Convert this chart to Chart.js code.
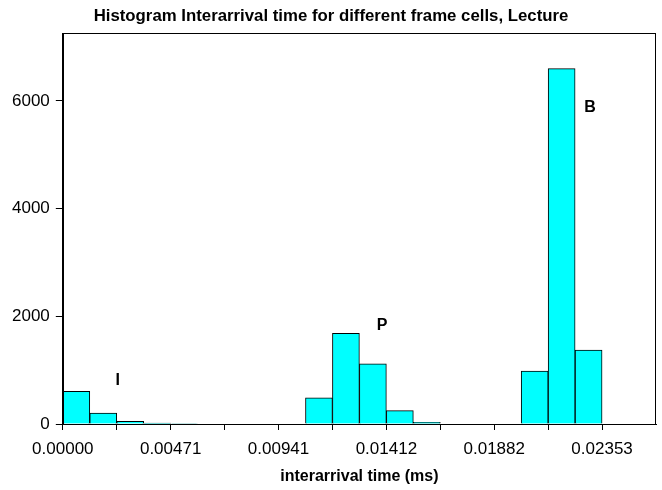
<!DOCTYPE html>
<html>
<head>
<meta charset="utf-8">
<script src="https://cdn.jsdelivr.net/npm/chart.js@4"></script>
<style>
  html, body { margin: 0; padding: 0; background: #fff; }
  #wrap { width: 662px; height: 490px; }
</style>
</head>
<body>
<div id="wrap"><canvas id="myChart" width="662" height="490"></canvas></div>
<script>
// histogram bins (width in ms), counts
let binWidth = 0.0011765;
let counts = [606, 204, 50, 17, 10, 0, 0, 0, 0, 485, 1685, 1120, 247, 30, 0, 0, 0, 985, 6600, 1375, 0, 0];

// x axis ticks: a mark every 2 bins, a label every 4
let xTickLabels = ['0.00000', '', '0.00471', '', '0.00941', '', '0.01412', '', '0.01882', '', '0.02353'];
let yTicks = [0, 2000, 4000, 6000];

// frame type labels
let annoText = ['I', 'P', 'B'];
let annoX = [0.0024, 0.01393, 0.0230];
let annoY = [815, 1835, 5870];

let fontFamily = '"Liberation Sans", Arial, sans-serif';
Chart.defaults.color = '#000';
Chart.defaults.font.family = fontFamily;

let points = counts.map((c, i) => ({ x: i * binWidth + binWidth / 2, y: c }));

// box round the plot area + the I/P/B labels
let framePlugin = {
  id: 'frame',
  afterDraw(chart) {
    let ctx = chart.ctx;
    let a = chart.chartArea;
    ctx.save();
    ctx.strokeStyle = '#000';
    ctx.lineWidth = 1;
    ctx.strokeRect(Math.round(a.left) + 0.5, Math.round(a.top) + 0.5,
      Math.round(a.right - a.left) - 1, Math.round(a.bottom - a.top));
    ctx.fillStyle = '#000';
    ctx.font = 'bold 16px ' + fontFamily;
    ctx.textAlign = 'center';
    ctx.textBaseline = 'middle';
    annoText.forEach((t, i) => {
      ctx.fillText(t, chart.scales.x.getPixelForValue(annoX[i]), chart.scales.y.getPixelForValue(annoY[i]));
    });
    ctx.restore();
  }
};

let ctx = document.getElementById('myChart').getContext('2d');
new Chart(ctx, {
  type: 'bar',
  data: {
    datasets: [{
      data: points,
      backgroundColor: '#00FFFF',
      borderColor: '#000',
      borderWidth: 1,
      barPercentage: 1,
      categoryPercentage: 1
    }]
  },
  options: {
    responsive: false,
    animation: false,
    layout: { padding: { left: 6, right: 6, top: 0, bottom: 5 } },
    plugins: {
      legend: { display: false },
      tooltip: { enabled: false },
      title: {
        display: true,
        text: 'Histogram Interarrival time for different frame cells, Lecture',
        font: { size: 16.8, weight: 'bold' },
        padding: { top: 6, bottom: 7 }
      }
    },
    scales: {
      x: {
        type: 'linear',
        offset: false,
        min: 0,
        max: counts.length * binWidth,
        afterBuildTicks: (scale) => {
          scale.ticks = xTickLabels.map((l, i) => ({ value: i * 2 * binWidth }));
        },
        ticks: {
          autoSkip: false,
          maxRotation: 0,
          padding: 11,
          font: { size: 17, lineHeight: 1 },
          callback: (v, i) => xTickLabels[i]
        },
        grid: { offset: false, drawOnChartArea: false, tickLength: 6, color: '#000' },
        border: { display: true, color: '#000' },
        title: {
          display: true,
          text: 'interarrival time (ms)',
          font: { size: 16, weight: 'bold', lineHeight: 1 },
          padding: { top: 0, bottom: 0 }
        }
      },
      y: {
        min: 0,
        max: 7260,
        afterBuildTicks: (scale) => {
          scale.ticks = yTicks.map(v => ({ value: v }));
        },
        ticks: { padding: 6, font: { size: 17 }, callback: (v) => String(v) },
        grid: { drawOnChartArea: false, tickLength: 7, color: '#000' },
        border: { display: true, color: '#000' }
      }
    }
  },
  plugins: [framePlugin]
});
</script>
</body>
</html>
